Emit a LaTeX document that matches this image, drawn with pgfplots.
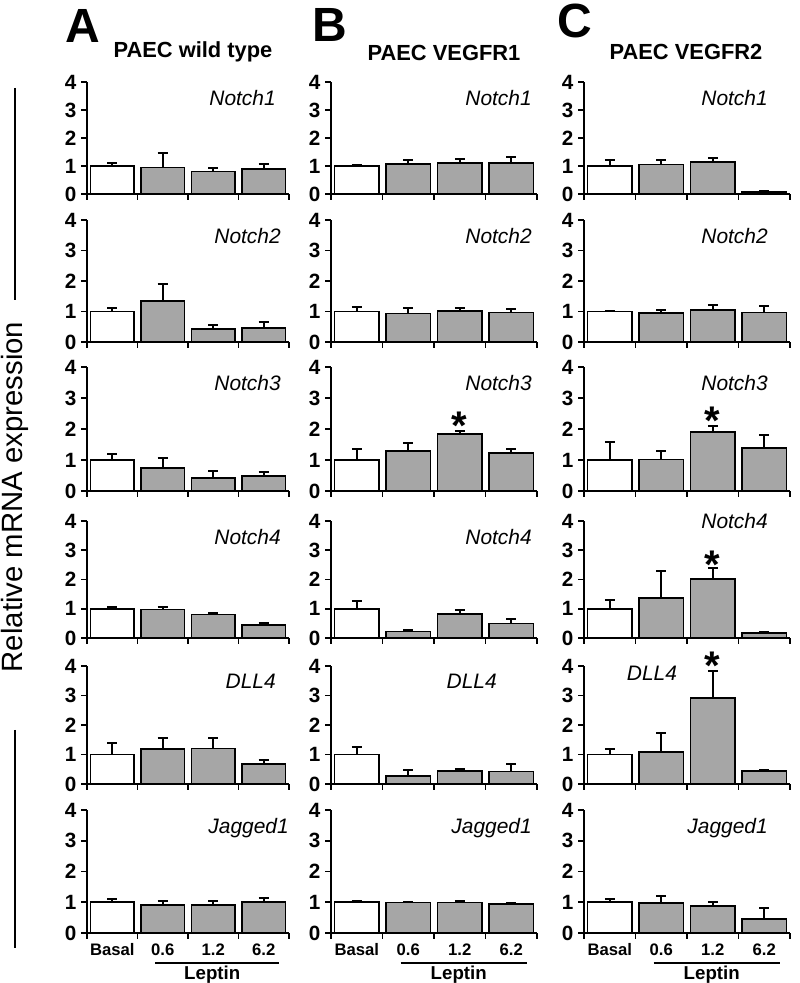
\documentclass[border=0pt]{standalone}
\usepackage{fontspec}
\setmainfont{Liberation Sans}
\usepackage{graphicx}
\usepackage{pgfplots}
\pgfplotsset{compat=1.18}
\definecolor{barg}{RGB}{166,166,166}
\newcommand{\tickfont}{\fontsize{15.5}{16}\selectfont\bfseries}
\newcommand{\genefont}{\fontsize{15.7}{17}\selectfont\itshape}
\newcommand{\catfont}{\fontsize{12.5}{13}\selectfont\bfseries}
\newcommand{\genelabel}[2]{\node[anchor=north east, font=\genefont, inner sep=0pt] at ([xshift=#1, yshift=-6pt]rel axis cs:1,1) {#2};}
\newcommand{\sigstar}[2]{\node[anchor=base, font=\fontsize{30}{30}\selectfont\bfseries, inner sep=0pt] at ([yshift=-17pt]axis cs:#1,#2) {*};}
\pgfplotsset{
  panel/.style={
    scale only axis, xmin=0, xmax=4, ymin=0, ymax=4,
    axis lines*=left,
    axis line style={line width=1.4pt, black},
    tick style={line width=1.4pt, black},
    tick align=outside, major tick length=4.5pt,
    ytick={0,1,2,3,4}, xtick={0,1,2,3,4}, xticklabels={},
    yticklabel style={font=\tickfont},
    /pgf/number format/assume math mode=true,
    clip=false,
  },
  bottomrow/.style={
    extra x ticks={0.5,1.5,2.5,3.5},
    extra x tick labels={Basal,0.6,1.2,6.2},
    extra x tick style={major tick length=0pt, tick style={draw=none}, xticklabel style={font=\catfont, yshift=-4.5pt}},
  },
  colA/.style={width=151.5pt}, colB/.style={width=154.5pt}, colC/.style={width=154.5pt},
  row1/.style={height=84pt}, row2/.style={height=91.5pt}, row3/.style={height=93pt},
  row4/.style={height=87.75pt}, row5/.style={height=88.5pt}, row6/.style={height=92.25pt},
  basebar/.style={ybar, bar shift=0pt, bar width=0.86, draw=black, line width=1.3pt,
    error bars/.cd, y dir=plus, y explicit,
    error bar style={line width=1.5pt, black},
    error mark=|, error mark options={mark size=3.75pt, line width=1.5pt, black}},
  wbar/.style={fill=white, basebar},
  gbar/.style={fill=barg, basebar},
}
\newcommand{\leptin}{%
  \draw[line width=1.4pt] ([yshift=-22.5pt]axis cs:1.35,0) -- ([yshift=-22.5pt]axis cs:3.8,0);
  \node[font=\fontsize{14}{14}\selectfont\bfseries] at ([yshift=-31.5pt]axis cs:2.48,0) {Leptin};}
\begin{document}
\begin{tikzpicture}[x=0.75pt,y=0.75pt]
\path[use as bounding box] (0,0) rectangle (800,983);
% headers
\node[font=\fontsize{36}{36}\selectfont\bfseries, anchor=base] at (83,940) {A};
\node[font=\fontsize{36}{36}\selectfont\bfseries, anchor=base] at (330,941) {B};
\node[font=\fontsize{36}{36}\selectfont\bfseries, anchor=base] at (575,945) {C};
\node[font=\fontsize{16.4}{17}\selectfont\bfseries, anchor=base] at (193,925) {PAEC wild type};
\node[font=\fontsize{16.4}{17}\selectfont\bfseries, anchor=base] at (444,922) {PAEC VEGFR1};
\node[font=\fontsize{16.4}{17}\selectfont\bfseries, anchor=base] at (686,923) {PAEC VEGFR2};
% y label
\node[rotate=90, font=\fontsize{22}{22}\selectfont] at (15,486) {Relative mRNA expression};
\draw[line width=1.5pt] (15,895) -- (15,683);
\draw[line width=1.5pt] (15,253) -- (15,35);

% ===== Column A =====
\begin{axis}[panel, colA, row1, at={(65.25pt,591.75pt)}]
\addplot[wbar] coordinates {(0.5,1.00) +- (0,0.10)};
\addplot[gbar] coordinates {(1.5,0.95) +- (0,0.53) (2.5,0.80) +- (0,0.13) (3.5,0.89) +- (0,0.19)};
\genelabel{-9.75pt}{Notch1}
\end{axis}
\begin{axis}[panel, colA, row2, at={(65.25pt,480.75pt)}]
\addplot[wbar] coordinates {(0.5,1.00) +- (0,0.11)};
\addplot[gbar] coordinates {(1.5,1.35) +- (0,0.55) (2.5,0.42) +- (0,0.15) (3.5,0.47) +- (0,0.20)};
\genelabel{-6pt}{Notch2}
\end{axis}
\begin{axis}[panel, colA, row3, at={(65.25pt,369pt)}]
\addplot[wbar] coordinates {(0.5,1.00) +- (0,0.20)};
\addplot[gbar] coordinates {(1.5,0.75) +- (0,0.30) (2.5,0.42) +- (0,0.22) (3.5,0.48) +- (0,0.12)};
\genelabel{-6pt}{Notch3}
\end{axis}
\begin{axis}[panel, colA, row4, at={(65.25pt,258.75pt)}]
\addplot[wbar] coordinates {(0.5,1.00) +- (0,0.05)};
\addplot[gbar] coordinates {(1.5,0.97) +- (0,0.10) (2.5,0.80) +- (0,0.05) (3.5,0.45) +- (0,0.07)};
\genelabel{-6pt}{Notch4}
\end{axis}
\begin{axis}[panel, colA, row5, at={(65.25pt,149.25pt)}]
\addplot[wbar] coordinates {(0.5,1.00) +- (0,0.38)};
\addplot[gbar] coordinates {(1.5,1.18) +- (0,0.38) (2.5,1.20) +- (0,0.35) (3.5,0.68) +- (0,0.15)};
\genelabel{-9.75pt}{DLL4}
\end{axis}
\begin{axis}[panel, colA, row6, bottomrow, at={(65.25pt,37.5pt)}]
\addplot[wbar] coordinates {(0.5,1.00) +- (0,0.10)};
\addplot[gbar] coordinates {(1.5,0.92) +- (0,0.13) (2.5,0.91) +- (0,0.12) (3.5,1.02) +- (0,0.12)};
\genelabel{0pt}{Jagged1}
\leptin
\end{axis}

% ===== Column B =====
\begin{axis}[panel, colB, row1, at={(248.25pt,591.75pt)}]
\addplot[wbar] coordinates {(0.5,1.00) +- (0,0.05)};
\addplot[gbar] coordinates {(1.5,1.06) +- (0,0.14) (2.5,1.12) +- (0,0.13) (3.5,1.10) +- (0,0.22)};
\genelabel{-3.75pt}{Notch1}
\end{axis}
\begin{axis}[panel, colB, row2, at={(248.25pt,480.75pt)}]
\addplot[wbar] coordinates {(0.5,1.00) +- (0,0.15)};
\addplot[gbar] coordinates {(1.5,0.93) +- (0,0.20) (2.5,1.02) +- (0,0.08) (3.5,0.97) +- (0,0.10)};
\genelabel{-3.75pt}{Notch2}
\end{axis}
\begin{axis}[panel, colB, row3, at={(248.25pt,369pt)}]
\addplot[wbar] coordinates {(0.5,1.00) +- (0,0.35)};
\addplot[gbar] coordinates {(1.5,1.30) +- (0,0.25) (2.5,1.83) +- (0,0.12) (3.5,1.22) +- (0,0.15)};
\genelabel{-3.75pt}{Notch3}
\sigstar{2.5}{2.4}
\end{axis}
\begin{axis}[panel, colB, row4, at={(248.25pt,258.75pt)}]
\addplot[wbar] coordinates {(0.5,1.00) +- (0,0.25)};
\addplot[gbar] coordinates {(1.5,0.22) +- (0,0.05) (2.5,0.82) +- (0,0.15) (3.5,0.50) +- (0,0.15)};
\genelabel{-3.75pt}{Notch4}
\end{axis}
\begin{axis}[panel, colB, row5, at={(248.25pt,149.25pt)}]
\addplot[wbar] coordinates {(0.5,1.00) +- (0,0.25)};
\addplot[gbar] coordinates {(1.5,0.27) +- (0,0.20) (2.5,0.45) +- (0,0.07) (3.5,0.42) +- (0,0.27)};
\genelabel{-30pt}{DLL4}
\end{axis}
\begin{axis}[panel, colB, row6, bottomrow, at={(248.25pt,37.5pt)}]
\addplot[wbar] coordinates {(0.5,1.00) +- (0,0.03)};
\addplot[gbar] coordinates {(1.5,0.99) +- (0,0.02) (2.5,0.99) +- (0,0.04) (3.5,0.95) +- (0,0.03)};
\genelabel{-3.75pt}{Jagged1}
\leptin
\end{axis}

% ===== Column C =====
\begin{axis}[panel, colC, row1, at={(438pt,591.75pt)}]
\addplot[wbar] coordinates {(0.5,1.00) +- (0,0.23)};
\addplot[gbar] coordinates {(1.5,1.05) +- (0,0.18) (2.5,1.14) +- (0,0.14) (3.5,0.06) +- (0,0.04)};
\genelabel{-16.5pt}{Notch1}
\end{axis}
\begin{axis}[panel, colC, row2, at={(438pt,480.75pt)}]
\addplot[wbar] coordinates {(0.5,1.00) +- (0,0.03)};
\addplot[gbar] coordinates {(1.5,0.95) +- (0,0.10) (2.5,1.05) +- (0,0.15) (3.5,0.97) +- (0,0.22)};
\genelabel{-16.5pt}{Notch2}
\end{axis}
\begin{axis}[panel, colC, row3, at={(438pt,369pt)}]
\addplot[wbar] coordinates {(0.5,1.00) +- (0,0.57)};
\addplot[gbar] coordinates {(1.5,1.02) +- (0,0.27) (2.5,1.90) +- (0,0.20) (3.5,1.38) +- (0,0.42)};
\genelabel{-16.5pt}{Notch3}
\sigstar{2.5}{2.55}
\end{axis}
\begin{axis}[panel, colC, row4, at={(438pt,258.75pt)}]
\addplot[wbar] coordinates {(0.5,1.00) +- (0,0.30)};
\addplot[gbar] coordinates {(1.5,1.36) +- (0,0.93) (2.5,2.02) +- (0,0.38) (3.5,0.17) +- (0,0.04)};
\node[anchor=north east, font=\genefont, inner sep=0pt] at ([xshift=-16.5pt, yshift=6pt]rel axis cs:1,1) {Notch4};
\sigstar{2.5}{2.82}
\end{axis}
\begin{axis}[panel, colC, row5, at={(438pt,149.25pt)}]
\addplot[wbar] coordinates {(0.5,1.00) +- (0,0.17)};
\addplot[gbar] coordinates {(1.5,1.08) +- (0,0.65) (2.5,2.92) +- (0,0.92) (3.5,0.45) +- (0,0.03)};
\node[anchor=north west, font=\genefont, inner sep=0pt] at ([xshift=32pt, yshift=0pt]rel axis cs:0,1) {DLL4};
\sigstar{2.5}{4.3}
\end{axis}
\begin{axis}[panel, colC, row6, bottomrow, at={(438pt,37.5pt)}]
\addplot[wbar] coordinates {(0.5,1.00) +- (0,0.12)};
\addplot[gbar] coordinates {(1.5,0.97) +- (0,0.24) (2.5,0.87) +- (0,0.13) (3.5,0.45) +- (0,0.37)};
\genelabel{-16.5pt}{Jagged1}
\leptin
\end{axis}
\end{tikzpicture}
\end{document}
